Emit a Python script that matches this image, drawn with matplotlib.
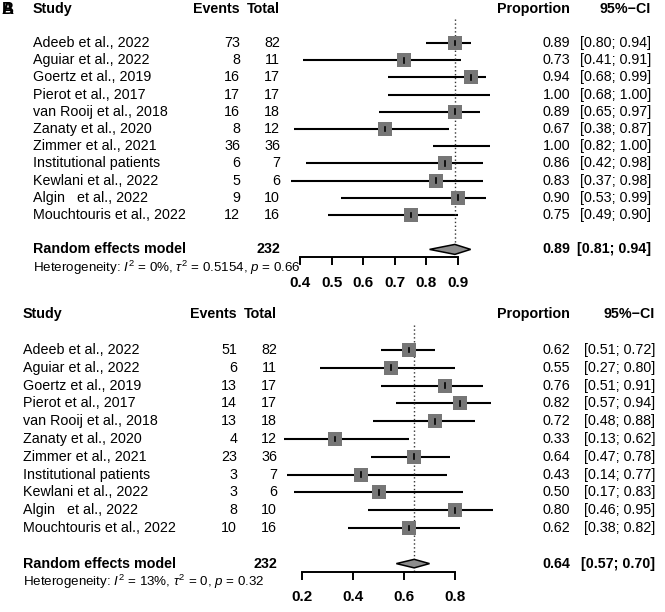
import matplotlib
matplotlib.use('Agg')
import matplotlib.pyplot as plt
import matplotlib.transforms as mtransforms

plt.rcParams['font.family'] = ['Liberation Sans', 'DejaVu Sans']
plt.rcParams['mathtext.fontset'] = 'custom'
plt.rcParams['mathtext.rm'] = 'Liberation Sans'
plt.rcParams['mathtext.it'] = 'Liberation Sans:italic'

studies = ['Adeeb et al., 2022', 'Aguiar et al., 2022', 'Goertz et al., 2019',
           'Pierot et al., 2017', 'van Rooij et al., 2018', 'Zanaty et al., 2020',
           'Zimmer et al., 2021', 'Institutional patients', 'Kewlani et al., 2022',
           'Algin   et al., 2022', 'Mouchtouris et al., 2022']
totals = [82, 11, 17, 17, 18, 12, 36, 7, 6, 10, 16]

# panel A
events_a = [73, 8, 16, 17, 16, 8, 36, 6, 5, 9, 12]
prop_a = [0.89, 0.73, 0.94, 1.00, 0.89, 0.67, 1.00, 0.86, 0.83, 0.90, 0.75]
lo_a = [0.80, 0.41, 0.68, 0.68, 0.65, 0.38, 0.82, 0.42, 0.37, 0.53, 0.49]
hi_a = [0.94, 0.91, 0.99, 1.00, 0.97, 0.87, 1.00, 0.98, 0.98, 0.99, 0.90]
pooled_a = (0.89, 0.81, 0.94)
ticks_a = [0.4, 0.5, 0.6, 0.7, 0.8, 0.9]
het_a = r'Heterogeneity: $I^2$ = 0%, $\tau^2$ = 0.5154, $p$ = 0.66'

# panel B
events_b = [51, 6, 13, 14, 13, 4, 23, 3, 3, 8, 10]
prop_b = [0.62, 0.55, 0.76, 0.82, 0.72, 0.33, 0.64, 0.43, 0.50, 0.80, 0.62]
lo_b = [0.51, 0.27, 0.51, 0.57, 0.48, 0.13, 0.47, 0.14, 0.17, 0.46, 0.38]
hi_b = [0.72, 0.80, 0.91, 0.94, 0.88, 0.62, 0.78, 0.77, 0.83, 0.95, 0.82]
pooled_b = (0.64, 0.57, 0.70)
ticks_b = [0.2, 0.4, 0.6, 0.8]
het_b = r'Heterogeneity: $I^2$ = 13%, $\tau^2$ = 0, $p$ = 0.32'

W, H = 665, 612
fig = plt.figure(figsize=(W / 100, H / 100), dpi=100)
FS = 10.3


def forest(px_left, px_right, xlim, top_px, row_px, text_x, cols, events, prop, lo, hi,
           pooled, ticks, het, dia_h):
    ymin = -2.5
    ymax = 12.45
    bottom_px = top_px + (ymax - ymin) * row_px
    ax = fig.add_axes([px_left / W, 1 - bottom_px / H,
                       (px_right - px_left) / W, (bottom_px - top_px) / H])
    ax.set_xlim(*xlim)
    ax.set_ylim(ymax, ymin)
    ax.patch.set_alpha(0)
    for s in ['top', 'left', 'right']:
        ax.spines[s].set_visible(False)
    ax.spines['bottom'].set_bounds(ticks[0], ticks[-1])
    ax.spines['bottom'].set_linewidth(1.4)
    ax.set_yticks([])
    ax.set_xticks(ticks)
    ax.set_xticklabels([f'{t:.1f}' for t in ticks], fontsize=11, fontweight='bold')
    ax.tick_params(axis='x', length=6, width=1.4, pad=7.5)

    n = len(prop)
    rows = list(range(n))
    ax.hlines(rows, lo, hi, color='black', lw=1.5, clip_on=False)
    for i in rows:
        if events[i] < totals[i]:
            ax.scatter(prop[i], i, marker='s', s=100, color='#767676', lw=0,
                       clip_on=False, zorder=3)
            ax.plot([prop[i], prop[i]], [i - 0.14, i + 0.14], color='black',
                    lw=1.2, clip_on=False, zorder=4)
    ax.plot([pooled[0], pooled[0]], [-1.4, ymax], color='#333333', lw=1.0,
            ls=(0, (1.0, 1.8)), clip_on=False, zorder=2)
    est, l, h = pooled
    ax.fill([l, est, h, est], [12, 12 - dia_h, 12, 12 + dia_h], facecolor='#8c8c8c',
            edgecolor='black', lw=1.1, clip_on=False, zorder=3)

    tr = mtransforms.blended_transform_factory(fig.transFigure, ax.transData)
    xs, xe, xt, xp, xc = [c / W for c in (text_x,) + cols]
    kw = dict(transform=tr, va='center', fontsize=FS)
    ax.text(xs, -2, 'Study', fontweight='bold', ha='left', **kw)
    ax.text(xe, -2, 'Events', fontweight='bold', ha='right', **kw)
    ax.text(xt, -2, 'Total', fontweight='bold', ha='right', **kw)
    ax.text(xp, -2, 'Proportion', fontweight='bold', ha='right', **kw)
    ax.text(xc, -2, '95%\u2212CI', fontweight='bold', ha='right', **kw)
    for i in rows:
        ax.text(xs, i, studies[i], ha='left', **kw)
        ax.text(xe, i, str(events[i]), ha='right', **kw)
        ax.text(xt, i, str(totals[i]), ha='right', **kw)
        ax.text(xp, i, f'{prop[i]:.2f}', ha='right', **kw)
        ax.text(xc, i, f'[{lo[i]:.2f}; {hi[i]:.2f}]', ha='right', **kw)
    ax.text(xs, 12, 'Random effects model', fontweight='bold', ha='left', **kw)
    ax.text(xt, 12, str(sum(totals)), fontweight='bold', ha='right', **kw)
    ax.text(xp, 12, f'{est:.2f}', fontweight='bold', ha='right', **kw)
    ax.text(xc, 12, f'[{l:.2f}; {h:.2f}]', fontweight='bold', ha='right', **kw)
    ax.text(xs, 13.05, het, ha='left', transform=tr, va='center', fontsize=9.6)
    return ax


forest(300, 458, (0.4, 0.9), 0.0, 17.2, 33, (240, 280, 570, 651),
       events_a, prop_a, lo_a, hi_a, pooled_a, ticks_a, het_a, 0.29)
forest(302, 455, (0.2, 0.8), 305.5, 17.8, 23, (237, 277, 570, 655),
       events_b, prop_b, lo_b, hi_b, pooled_b, ticks_b, het_b, 0.24)

# panel letters (overlapping in the original)
fig.text(2 / W, 1 - 9 / H, 'A', fontsize=12, fontweight='bold', va='center')
fig.text(2 / W, 1 - 9 / H, 'B', fontsize=12, fontweight='bold', va='center')

fig.savefig('out.png', dpi=100)
